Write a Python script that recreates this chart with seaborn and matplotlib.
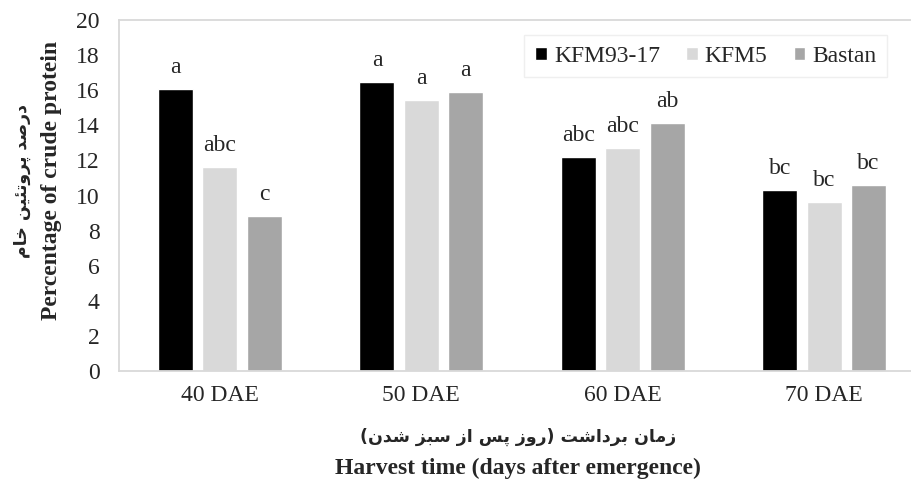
# Crude protein of three cultivars at four harvest times
import pandas as pd
import seaborn as sns
from matplotlib import pyplot as plt

times = ["40 DAE", "50 DAE", "60 DAE", "70 DAE"]
cultivars = ["KFM93-17", "KFM5", "Bastan"]
kfm93 = [16.07, 16.45, 12.18, 10.31]
kfm5 = [11.62, 15.44, 12.69, 9.61]
bastan = [8.83, 15.90, 14.15, 10.58]
letters_kfm93 = ["a", "a", "abc", "bc"]
letters_kfm5 = ["abc", "a", "abc", "bc"]
letters_bastan = ["c", "a", "ab", "bc"]
colors = ["#000000", "#d9d9d9", "#a6a6a6"]

ylabel_fa = "درصد پروتئین خام"
xlabel_fa = "زمان برداشت (روز پس از سبز شدن)"

# matplotlib does no arabic shaping, so pick the presentation forms by hand
# letter: (isolated, final, initial, medial)
FORMS = {
    "ا": ("\ufe8d", "\ufe8e", None, None),
    "ب": ("\ufe8f", "\ufe90", "\ufe91", "\ufe92"),
    "پ": ("\ufb56", "\ufb57", "\ufb58", "\ufb59"),
    "ت": ("\ufe95", "\ufe96", "\ufe97", "\ufe98"),
    "خ": ("\ufea5", "\ufea6", "\ufea7", "\ufea8"),
    "د": ("\ufea9", "\ufeaa", None, None),
    "ر": ("\ufead", "\ufeae", None, None),
    "ز": ("\ufeaf", "\ufeb0", None, None),
    "س": ("\ufeb1", "\ufeb2", "\ufeb3", "\ufeb4"),
    "ش": ("\ufeb5", "\ufeb6", "\ufeb7", "\ufeb8"),
    "ص": ("\ufeb9", "\ufeba", "\ufebb", "\ufebc"),
    "م": ("\ufee1", "\ufee2", "\ufee3", "\ufee4"),
    "ن": ("\ufee5", "\ufee6", "\ufee7", "\ufee8"),
    "و": ("\ufeed", "\ufeee", None, None),
    "ئ": ("\ufe89", "\ufe8a", "\ufe8b", "\ufe8c"),
    "ی": ("\ufeef", "\ufef0", "\ufef3", "\ufef4"),
}
MIRROR = {"(": ")", ")": "("}


def shape_fa(text):
    out = []
    for i, ch in enumerate(text):
        if ch not in FORMS:
            out.append(MIRROR.get(ch, ch))
            continue
        prev = text[i - 1] if i > 0 else ""
        nxt = text[i + 1] if i + 1 < len(text) else ""
        join_prev = prev in FORMS and FORMS[prev][2] is not None
        join_next = nxt in FORMS and FORMS[ch][2] is not None
        iso, fin, ini, med = FORMS[ch]
        if join_prev and join_next:
            out.append(med)
        elif join_prev:
            out.append(fin)
        elif join_next:
            out.append(ini)
        else:
            out.append(iso)
    return "".join(reversed(out))


df = pd.DataFrame({
    "time": times * 3,
    "protein": kfm93 + kfm5 + bastan,
    "cultivar": [c for c in cultivars for _ in times],
})

sns.set_style("white")
plt.rcParams["font.family"] = ["Liberation Serif", "DejaVu Sans"]

fig = plt.figure(figsize=(9.12, 4.86), dpi=100)
ax = fig.add_axes([0.1305, 0.2366, 0.8838, 0.7222])
sns.barplot(data=df, x="time", y="protein", hue="cultivar", palette=colors,
            width=0.66, gap=0.21, saturation=1, errorbar=None, ax=ax)

for cont, labs in zip(ax.containers, [letters_kfm93, letters_kfm5, letters_bastan]):
    ax.bar_label(cont, labels=labs, padding=8, fontsize=17)

ax.set_ylim(0, 20)
ax.set_xlim(-0.5, 3.5)
ax.set_yticks(range(0, 21, 2))
ax.tick_params(axis="both", length=0, labelsize=17)
ax.tick_params(axis="y", pad=14)
ax.tick_params(axis="x", pad=10)
for s in ax.spines.values():
    s.set_color("#d9d9d9")
    s.set_linewidth(1.3)
ax.set_xlabel("")
ax.set_ylabel("")

ax.legend(loc="upper right", bbox_to_anchor=(0.953, 0.957), borderaxespad=0,
          ncol=3, prop={"family": "Liberation Serif", "size": 17},
          frameon=True, fancybox=False, edgecolor="#ebebeb", borderpad=0.45,
          handlelength=0.5, handleheight=0.5, handletextpad=0.3, columnspacing=1.1)

fig.text(0.568, 1 - 437 / 486, shape_fa(xlabel_fa), ha="center", va="center",
         fontsize=12.5, fontweight="bold", family="DejaVu Sans")
fig.text(0.568, 1 - 468 / 486, "Harvest time (days after emergence)", ha="center",
         va="center", fontsize=17, fontweight="bold")
fig.text(22 / 912, 0.628, shape_fa(ylabel_fa), ha="center", va="center",
         rotation=90, fontsize=12.5, fontweight="bold", family="DejaVu Sans")
fig.text(52 / 912, 0.628, "Percentage of crude protein", ha="center", va="center",
         rotation=90, fontsize=17, fontweight="bold")

fig.savefig("out.png", dpi=100)
